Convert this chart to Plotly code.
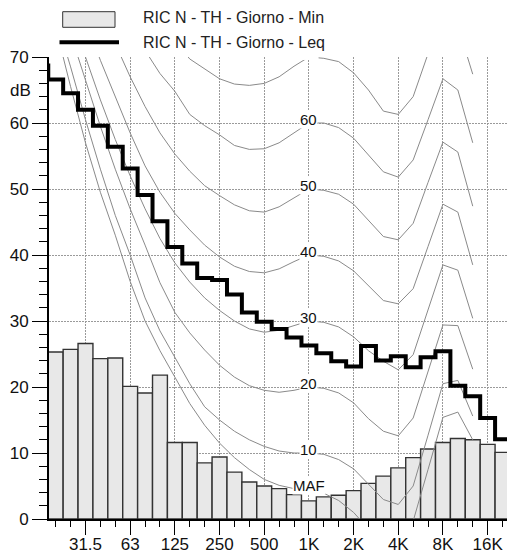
import plotly.graph_objects as go

# ---------------- data ----------------
band_labels = ["20", "25", "31.5", "40", "50", "63", "80", "100", "125", "160", "200",
               "250", "315", "400", "500", "630", "800", "1K", "1.25K", "1.6K", "2K",
               "2.5K", "3.15K", "4K", "5K", "6.3K", "8K", "10K", "12.5K", "16K", "20K"]

# RIC N - TH - Giorno - Min (bars, 20 Hz .. 20 kHz)
min_values = [25.3, 25.7, 26.6, 24.3, 24.4, 20.1, 19.1, 21.8, 11.6, 11.6, 8.5,
              9.4, 7.1, 5.6, 5.0, 4.6, 3.7, 2.75, 3.35, 3.6, 4.3,
              5.4, 6.5, 7.75, 9.3, 10.6, 11.6, 12.2, 12.0, 11.3, 10.1]

# RIC N - TH - Giorno - Leq (step line, 16 Hz .. 20 kHz)
leq_labels = ["16"] + band_labels
leq_values = [68.7, 66.6, 64.5, 62.0, 59.6, 56.4, 53.1, 49.1, 45.1, 41.2, 38.7,
              36.5, 36.2, 34.0, 31.3, 29.9, 28.8, 27.5, 26.3, 25.1, 23.9,
              23.1, 26.2, 24.0, 24.65, 23.0, 24.5, 25.4, 20.2, 18.6, 15.3, 12.1]

# Equal-loudness contours (20 Hz .. 12.5 kHz)
iso_maf = [74.5, 65.5, 57.0, 49.5, 43.0, 36.0, 30.0, 25.5, 21.5, 17.5, 14.2, 11.5, 9.3, 7.5, 6.0,
           5.1, 4.6, 4.4, 3.9, 2.8, 1.0, -1.5, -4.0, -5.0, -0.3, 7.5, 15.4, 16.2, 12.0]
iso_10 = [76, 68.5, 60.5, 53, 46, 40, 33.5, 28.5, 24.5, 20.5, 17.0, 15.0, 13.3, 12.0, 11.0,
          10.3, 10.0, 10.0, 9.8, 9.0, 7.6, 5.3, 2.95, 2.2, 5.0, 12.7, 20.5, 21.0, 15.6]
iso_20 = [80, 73.5, 66.5, 59.5, 53, 47, 41.5, 35.8, 31.3, 28.2, 25.6, 23.3, 21.5, 20.2, 19.5,
          19.2, 19.5, 20, 19.8, 19.1, 17.6, 15.2, 13.3, 12.6, 15.3, 22.3, 29.4, 29.3, 22.7]
iso_30 = [84, 77, 70, 63.5, 57.5, 52, 47, 42.5, 38.8, 35.9, 33.5, 31.6, 30.0, 28.8, 28.3,
          28.6, 29.3, 30, 29.8, 29.1, 27.6, 25.5, 23.9, 22.6, 24.9, 31.7, 38.5, 37.7, 30.4]
iso_40 = [88, 81.5, 75.5, 69.5, 64, 58.5, 53.5, 49.5, 46.3, 43.8, 41.5, 39.7, 38.3, 37.5, 37.3,
          37.9, 39.0, 40, 39.8, 39.1, 37.6, 35.4, 33.1, 32.6, 34.9, 41.3, 47.7, 46.5, 38.5]
iso_50 = [92, 86, 80.5, 76, 72, 67, 62.5, 58.5, 55.3, 52.7, 50.5, 49.0, 47.6, 46.7, 46.5,
          47.3, 48.6, 50, 49.8, 49.2, 47.7, 45.2, 42.8, 42.3, 44.8, 51.0, 57.1, 55.6, 47.4]
iso_60 = [96, 91, 86, 81.5, 77.5, 74, 71, 67.5, 64.8, 61.3, 59.6, 58.2, 56.6, 56.0, 56.1,
          57.0, 58.5, 60, 60.0, 59.3, 57.7, 55.2, 52.6, 51.8, 54.4, 60.5, 66.7, 65.0, 57.0]
iso_70 = [100, 95.5, 91.5, 87.5, 84, 80.5, 77.5, 75, 72.5, 69.7, 68.2, 66.7, 65.9, 65.7, 66.0,
          67.0, 68.6, 70, 69.8, 69.3, 67.6, 65.0, 61.8, 61.3, 64.0, 70.5, 77.0, 74.7, 67.4]
iso_names = ["MAF", "10", "20", "30", "40", "50", "60", "70"]

tick_bands = ["31.5", "63", "125", "250", "500", "1K", "2K", "4K", "8K", "16K"]
y_ticks = [0, 10, 20, 30, 40, 50, 60, 70]

# ---------------- layout constants ----------------
W, H = 507, 554
ML, MR, MT, MB = 49, 0, 57, 35
PW, PH = W - ML - MR, H - MT - MB
FONT = "Liberation Sans, Arial, sans-serif"


def px_x(px):
    return (px - ML) / PW


def px_y(py):
    return (H - MB - py) / PH


band_pos = {lab: i for i, lab in enumerate(band_labels)}
band_pos["16"] = -1

fig = go.Figure()

# bars (Min)
fig.add_trace(go.Bar(
    x=[band_pos[b] for b in band_labels], y=min_values, width=1,
    marker=dict(color="#e8e8e8", line=dict(color="#333333", width=1.4)),
    showlegend=False, hoverinfo="skip"))

# equal-loudness contours
iso_curves = [iso_maf, iso_10, iso_20, iso_30, iso_40, iso_50, iso_60, iso_70]
iso_x = [band_pos[b] for b in band_labels[:len(iso_maf)]]
for name, vals in zip(iso_names, iso_curves):
    fig.add_trace(go.Scatter(x=iso_x, y=vals, mode="lines",
                             line=dict(color="#8a8a8a", width=1),
                             showlegend=False, hoverinfo="skip"))

# Leq as band steps (edges built from band positions)
leq_pos = [band_pos[b] for b in leq_labels]
step_x = [p - 0.5 for p in leq_pos] + [leq_pos[-1] + 0.5]
step_y = leq_values + [leq_values[-1]]
fig.add_trace(go.Scatter(x=step_x, y=step_y, mode="lines", line_shape="hv",
                         line=dict(color="black", width=4),
                         showlegend=False, hoverinfo="skip"))

# contour labels at 1 kHz
annotations = []
k1 = band_pos["1K"]
for name, vals in zip(iso_names, iso_curves):
    if name == "70":
        continue
    annotations.append(dict(x=k1, y=vals[k1], xref="x", yref="y", text=name,
                            showarrow=False, bgcolor="white", borderpad=0,
                            yshift=4, font=dict(family=FONT, size=15, color="#111")))

# "dB" unit label
annotations.append(dict(x=px_x(33), y=px_y(90.5), xref="paper", yref="paper", text="dB",
                        xanchor="right", yanchor="middle", showarrow=False,
                        font=dict(family=FONT, size=17, color="#111")))

# legend texts
annotations.append(dict(x=px_x(141), y=px_y(17.8), xref="paper", yref="paper",
                        text="RIC N - TH - Giorno - Min", xanchor="left", yanchor="middle",
                        showarrow=False, font=dict(family=FONT, size=16, color="#222")))
annotations.append(dict(x=px_x(141), y=px_y(42.2), xref="paper", yref="paper",
                        text="RIC N - TH - Giorno - Leq", xanchor="left", yanchor="middle",
                        showarrow=False, font=dict(family=FONT, size=16, color="#222")))

shapes = [
    dict(type="rect", xref="paper", yref="paper", x0=px_x(62.7), x1=px_x(115),
         y0=px_y(27.3), y1=px_y(11.7), fillcolor="#e8e8e8",
         line=dict(color="#333333", width=1)),
    dict(type="line", xref="paper", yref="paper", x0=px_x(59.5), x1=px_x(119),
         y0=px_y(42.3), y1=px_y(42.3), line=dict(color="black", width=4)),
    # clipped "70" label box at the top edge
    dict(type="rect", xref="x", yref="y", x0=k1 - 0.65, x1=k1 + 0.65, y0=69.55, y1=70,
         fillcolor="white", line=dict(width=0), layer="above"),
]

fig.update_layout(
    width=W, height=H,
    margin=dict(l=ML, r=MR, t=MT, b=MB, pad=0, autoexpand=False),
    paper_bgcolor="white", plot_bgcolor="white",
    bargap=0, showlegend=False,
    font=dict(family=FONT, size=17, color="#111"),
    annotations=annotations, shapes=shapes,
)

fig.update_xaxes(
    range=[-0.45, 30.3], automargin=False,
    tickmode="array", tickvals=[band_pos[b] for b in tick_bands], ticktext=tick_bands,
    ticks="outside", ticklen=14, tickwidth=1, tickcolor="black",
    ticklabelstandoff=-5,
    tickfont=dict(family=FONT, size=17, color="#111"),
    showline=True, linecolor="black", linewidth=2,
    showgrid=True, gridcolor="#9a9a9a", gridwidth=1, griddash="2px,1px",
    zeroline=False,
    minor=dict(dtick=1, tick0=0, ticks="outside", ticklen=6, tickcolor="black",
               showgrid=False),
)
fig.update_yaxes(
    range=[0, 70], automargin=False,
    tickmode="array", tickvals=y_ticks,
    ticks="outside", ticklen=15, tickwidth=1, tickcolor="black",
    tickfont=dict(family=FONT, size=17, color="#111"),
    showline=True, linecolor="black", linewidth=2,
    showgrid=True, gridcolor="#9a9a9a", gridwidth=1, griddash="2px,1px",
    zeroline=False,
    minor=dict(dtick=2, tick0=0, ticks="outside", ticklen=8, tickcolor="black",
               showgrid=False),
)

fig.write_html("out.html",
               config={"displayModeBar": False, "staticPlot": True},
               post_script="document.body.style.margin='0';"
                           "document.body.style.overflow='hidden';")
